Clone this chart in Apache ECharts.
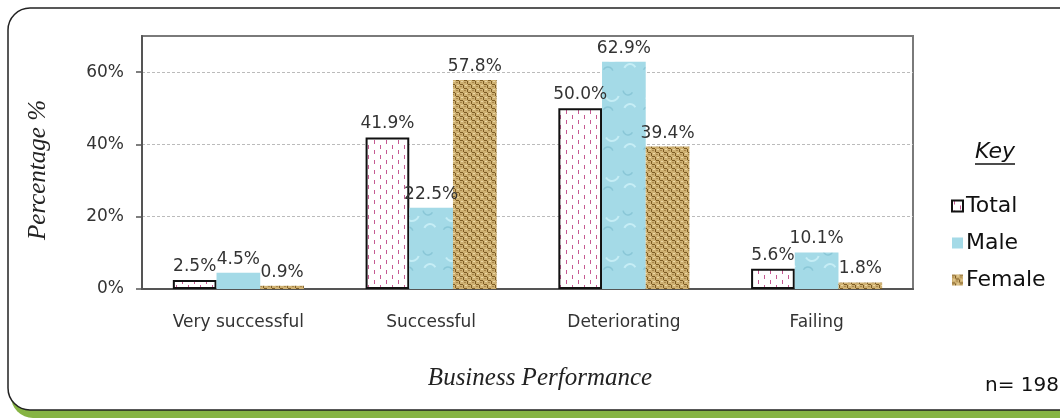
<!DOCTYPE html>
<html>
<head>
<meta charset="utf-8">
<script src="https://cdn.jsdelivr.net/npm/echarts@6/dist/echarts.min.js"></script>
<style>
html,body{margin:0;padding:0;background:#fff;}
#c{width:1060px;height:420px;}
</style>
</head>
<body>
<div id="c"></div>
<script>
var categories = ['Very successful', 'Successful', 'Deteriorating', 'Failing'];
var totalValues = [2.5, 41.9, 50.0, 5.6];
var maleValues = [4.5, 22.5, 62.9, 10.1];
var femaleValues = [0.9, 57.8, 39.4, 1.8];
var seriesNames = ['Total', 'Male', 'Female'];
var yTicks = [0, 20, 40, 60];

function mk(w, h, draw) {
  var c = document.createElement('canvas');
  c.width = w; c.height = h;
  draw(c.getContext('2d'));
  return c;
}
var totalPat = mk(12, 10, function (g) {
  g.fillStyle = '#fff'; g.fillRect(0, 0, 12, 10);
  g.fillStyle = '#c65a92';
  g.fillRect(2, 0, 1, 4);
  g.fillRect(8, 5, 1, 4);
});
var malePat = mk(40, 40, function (g) {
  g.fillStyle = '#a4dae7'; g.fillRect(0, 0, 40, 40);
  g.strokeStyle = '#c6edf5'; g.lineWidth = 2;
  g.beginPath(); g.arc(12, 14, 7, 0.3, 2.6); g.stroke();
  g.beginPath(); g.arc(30, 30, 6, 3.5, 5.8); g.stroke();
  g.strokeStyle = '#8ac7d7'; g.lineWidth = 1.5;
  g.beginPath(); g.arc(28, 10, 5, 0.5, 3.0); g.stroke();
  g.beginPath(); g.arc(8, 32, 5, 3.6, 6.0); g.stroke();
});
var femalePat = mk(8, 8, function (g) {
  g.fillStyle = '#cfb172'; g.fillRect(0, 0, 8, 8);
  g.fillStyle = '#7d5c24';
  g.fillRect(0, 0, 3, 1); g.fillRect(4, 4, 3, 1);
  g.fillRect(3, 1, 1, 3); g.fillRect(7, 5, 1, 3);
  g.fillStyle = '#a8864a';
  g.fillRect(0, 2, 2, 1); g.fillRect(4, 6, 2, 1);
  g.fillStyle = '#ead5a2';
  g.fillRect(5, 1, 2, 1); g.fillRect(1, 5, 2, 1);
});

var chart = echarts.init(document.getElementById('c'), null, {renderer: 'canvas'});

var sansFont = '"DejaVu Sans", Arial, sans-serif';
var serifFont = '"Liberation Serif", "DejaVu Serif", serif';

function labelFmt(p) { return p.value.toFixed(1) + '%'; }
var labelStyle = {show: true, position: 'top', distance: 5, formatter: labelFmt,
  fontFamily: sansFont, fontSize: 17, color: '#333'};

var option = {
  backgroundColor: '#fff',
  animation: false,
  graphic: [
    {type: 'rect', z: -10, silent: true, shape: {x: 11, y: 16, width: 1100, height: 402, r: 22}, style: {fill: '#86b443'}},
    {type: 'rect', z: -9, silent: true, shape: {x: 8, y: 8, width: 1100, height: 402, r: 22}, style: {fill: '#fff', stroke: '#222', lineWidth: 1.5}},
    {type: 'text', x: 38, y: 170, rotation: Math.PI / 2, style: {text: 'Percentage %', font: 'italic 25px ' + serifFont, fill: '#222', align: 'center', verticalAlign: 'middle'}},
    {type: 'text', x: 540, y: 378, style: {text: 'Business Performance', font: 'italic 25px ' + serifFont, fill: '#222', align: 'center', verticalAlign: 'middle'}},
    {type: 'text', x: 995, y: 152, style: {text: 'Key', font: 'italic 22px ' + sansFont, fill: '#111', align: 'center', verticalAlign: 'middle'}},
    {type: 'line', shape: {x1: 975, y1: 164, x2: 1015, y2: 164}, style: {stroke: '#111', lineWidth: 1.3}},
    {type: 'text', x: 985, y: 386, style: {text: 'n= 198', font: '20px ' + sansFont, fill: '#111', verticalAlign: 'middle'}}
  ],
  legend: {
    data: seriesNames,
    orient: 'vertical',
    left: 946, top: 190,
    itemWidth: 11, itemHeight: 11, itemGap: 15,
    icon: 'rect',
    textStyle: {fontFamily: sansFont, fontSize: 22, color: '#111', lineHeight: 22, padding: [0, 0, 0, -2]}
  },
  grid: {left: 142, right: 147, top: 36, bottom: 131, show: true, borderColor: '#7a7a7a', borderWidth: 2, backgroundColor: 'transparent'},
  xAxis: {
    type: 'category', data: categories,
    axisLine: {lineStyle: {color: '#555', width: 2}},
    axisTick: {show: false},
    axisLabel: {fontFamily: sansFont, fontSize: 17, color: '#333', margin: 25}
  },
  yAxis: {
    type: 'value', min: 0, max: 70, interval: 20,
    axisLine: {show: true, lineStyle: {color: '#555', width: 2}},
    axisTick: {show: true, length: 6, lineStyle: {color: '#555', width: 1.5},
      customValues: yTicks},
    axisLabel: {fontFamily: sansFont, fontSize: 17, color: '#333', margin: 18,
      customValues: yTicks,
      formatter: function (v) { return v + '%'; }},
    splitLine: {lineStyle: {color: '#bbb', type: [3, 2], width: 1}}
  },
  series: [
    {name: seriesNames[0], type: 'bar', data: totalValues, barGap: '0%', barCategoryGap: '32%',
      itemStyle: {color: {image: totalPat, repeat: 'repeat'}, borderColor: '#111', borderWidth: 2},
      label: labelStyle},
    {name: seriesNames[1], type: 'bar', data: maleValues,
      itemStyle: {color: {image: malePat, repeat: 'repeat'}},
      label: labelStyle},
    {name: seriesNames[2], type: 'bar', data: femaleValues,
      itemStyle: {color: {image: femalePat, repeat: 'repeat'}},
      label: labelStyle}
  ]
};
chart.setOption(option);
</script>
</body>
</html>
